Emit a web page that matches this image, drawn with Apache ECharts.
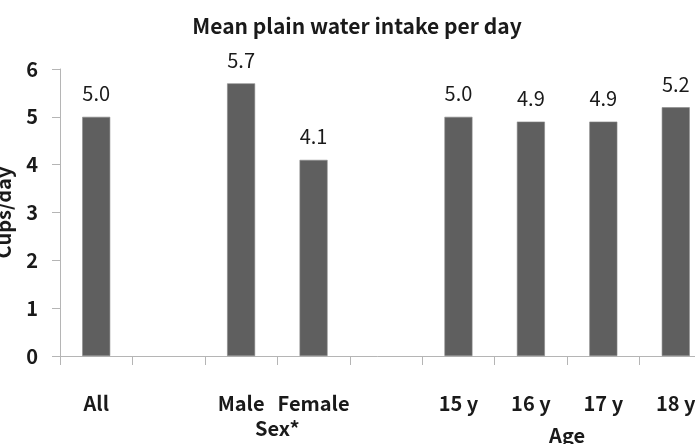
<!DOCTYPE html>
<html>
<head>
<meta charset="utf-8">
<script src="https://cdn.jsdelivr.net/npm/echarts@6/dist/echarts.min.js"></script>
<style>
  html, body { margin: 0; padding: 0; background: #fff; }
  #chart { width: 695px; height: 444px; }
</style>
</head>
<body>
<div id="chart"></div>
<script>
// 类别和数值
var categories = ['All', '', 'Male', 'Female', '', '15 y', '16 y', '17 y', '18 y'];
var intake = [5.0, null, 5.7, 4.1, null, 5.0, 4.9, 4.9, 5.2];
var groupLabels = ['Sex*', 'Age'];
var groupSpans = [[2, 3], [5, 8]]; // index range of each group
var groupOffsets = [0, 7]; // Age sits lower than Sex*
var yTicks = [0, 1, 2, 3, 4, 5, 6];

var FONT = '"Noto Sans CJK KR", "Noto Sans", sans-serif';

var myChart = echarts.init(document.getElementById('chart'));

var option = {
    animation: false,
    title: {
        text: 'Mean plain water intake per day',
        left: 352,
        top: 11,
        textAlign: 'center',
        textStyle: { fontFamily: FONT, fontSize: 21, fontWeight: 'bold', color: '#1a1a1a' }
    },
    grid: {
        left: 60,
        top: 69,
        width: 652,
        height: 287,
        outerBoundsMode: 'none',
        containLabel: false
    },
    xAxis: {
        type: 'category',
        data: categories,
        axisLine: { lineStyle: { color: '#b5b5b5', width: 1 } },
        axisTick: { show: true, interval: 0, length: 9, lineStyle: { color: '#b5b5b5' } },
        axisLabel: {
            interval: 0,
            margin: 37,
            fontFamily: FONT, fontSize: 20, fontWeight: 'bold', color: '#1a1a1a'
        },
        splitLine: { show: false }
    },
    yAxis: {
        type: 'value',
        min: yTicks[0],
        max: yTicks[yTicks.length - 1],
        interval: 1,
        name: 'Cups/day',
        nameLocation: 'middle',
        nameGap: 47,
        nameTextStyle: { fontFamily: FONT, fontSize: 20, fontWeight: 'bold', color: '#1a1a1a' },
        axisLine: { show: true, lineStyle: { color: '#b5b5b5', width: 1 } },
        axisTick: { show: true, length: 8, lineStyle: { color: '#b5b5b5' } },
        axisLabel: { margin: 22, fontFamily: FONT, fontSize: 20, fontWeight: 'bold', color: '#1a1a1a' },
        splitLine: { show: false }
    },
    series: [
        {
            name: 'intake',
            type: 'bar',
            data: intake,
            barWidth: 28,
            itemStyle: { color: '#5f5f5f', borderColor: '#8a8a8a', borderWidth: 0.6 },
            label: {
                show: true,
                position: 'top',
                distance: 13,
                fontFamily: FONT, fontSize: 20, color: '#1a1a1a',
                formatter: function (p) { return p.value.toFixed(1); }
            }
        }
    ]
};
myChart.setOption(option);

// 分组标签放在两类之间
var graphics = groupLabels.map(function (txt, i) {
    var a = myChart.convertToPixel({ xAxisIndex: 0 }, groupSpans[i][0]);
    var b = myChart.convertToPixel({ xAxisIndex: 0 }, groupSpans[i][1]);
    return {
        type: 'text',
        x: (a + b) / 2,
        y: 428 + groupOffsets[i],
        style: {
            text: txt,
            align: 'center',
            verticalAlign: 'middle',
            font: 'bold 20px ' + FONT,
            fill: '#1a1a1a'
        }
    };
});
myChart.setOption({ graphic: graphics });
</script>
</body>
</html>
